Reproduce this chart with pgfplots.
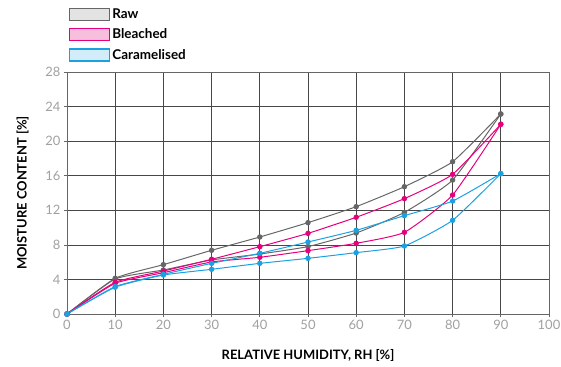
\documentclass[border=0pt]{standalone}
\usepackage{pgfplots}
\pgfplotsset{compat=1.18}
\usepackage{fontspec}
\setmainfont{Lato}
\definecolor{rawc}{HTML}{666666}
\definecolor{rawl}{HTML}{E3E3E3}
\definecolor{blc}{HTML}{E6007E}
\definecolor{bll}{HTML}{F7BFDC}
\definecolor{carc}{HTML}{1BA1E2}
\definecolor{carl}{HTML}{D3ECFA}
\definecolor{tickc}{HTML}{A0A0A0}
\begin{document}
\begin{tikzpicture}
\useasboundingbox (-67bp,-53bp) rectangle (494bp,314bp);
\begin{axis}[
  scale only axis, width=482bp, height=242bp,
  at={(0,0)}, anchor=south west,
  xmin=0, xmax=100, ymin=0, ymax=28,
  xtick={0,10,...,100}, ytick={0,4,...,28},
  grid=major,
  grid style={draw=black!72, line width=0.7pt},
  axis line style={draw=black!60, line width=0.8pt},
  tick style={draw=black!60, line width=0.7pt},
  major tick length=3pt,
  tick pos=left, tick align=outside,
  /pgf/number format/assume math mode=true,
  ticklabel style={font=\fontsize{13}{15}\selectfont, text=tickc},
  xlabel={\bfseries RELATIVE HUMIDITY, RH [\%]},
  ylabel={\bfseries MOISTURE CONTENT [\%]},
  label style={font=\fontsize{13}{15}\selectfont},
  xlabel style={yshift=-13bp},
  ylabel style={yshift=10bp},
  legend style={at={(0,1)}, anchor=south west, xshift=-1bp, yshift=7bp,
    draw=none, fill=none, font=\fontsize{13.5}{15}\selectfont\bfseries,
    row sep=5bp, cells={anchor=west}},
  every axis plot/.append style={line width=1pt, mark=*, mark size=2.2pt, smooth, tension=0.3},
]
\addlegendimage{legend image code/.code={\draw[draw=rawc,fill=rawl,line width=1.2pt] (0bp,-6bp) rectangle (40bp,6bp);}}
\addlegendentry{Raw}
\addlegendimage{legend image code/.code={\draw[draw=blc,fill=bll,line width=1.2pt] (0bp,-6bp) rectangle (40bp,6bp);}}
\addlegendentry{Bleached}
\addlegendimage{legend image code/.code={\draw[draw=carc,fill=carl,line width=1.2pt] (0bp,-6bp) rectangle (40bp,6bp);}}
\addlegendentry{Caramelised}
% Raw
\addplot[rawc, mark options={fill=rawc}, forget plot] coordinates {(0,0) (10,4.13) (20,5.71) (30,7.37) (40,8.91) (50,10.57) (60,12.42) (70,14.73) (80,17.62) (90,23.14)};
\addplot[rawc, mark options={fill=rawc}, forget plot] coordinates {(0,0) (10,4.05) (20,5.09) (30,6.25) (40,6.94) (50,7.8) (60,9.37) (70,11.76) (80,15.5) (90,23.14)};
% Bleached
\addplot[blc, mark options={fill=blc}, forget plot] coordinates {(0,0) (10,3.67) (20,4.97) (30,6.33) (40,7.79) (50,9.33) (60,11.19) (70,13.35) (80,16.16) (90,21.95)};
\addplot[blc, mark options={fill=blc}, forget plot] coordinates {(0,0) (10,3.55) (20,4.78) (30,6.02) (40,6.56) (50,7.33) (60,8.18) (70,9.45) (80,13.77) (90,21.95)};
% Caramelised
\addplot[carc, mark options={fill=carc}, forget plot] coordinates {(0,0) (10,3.17) (20,4.59) (30,5.86) (40,7.02) (50,8.33) (60,9.68) (70,11.38) (80,13.07) (90,16.24)};
\addplot[carc, mark options={fill=carc}, forget plot] coordinates {(0,0) (10,3.1) (20,4.51) (30,5.17) (40,5.86) (50,6.44) (60,7.1) (70,7.87) (80,10.84) (90,16.24)};
\end{axis}
\end{tikzpicture}
\end{document}
